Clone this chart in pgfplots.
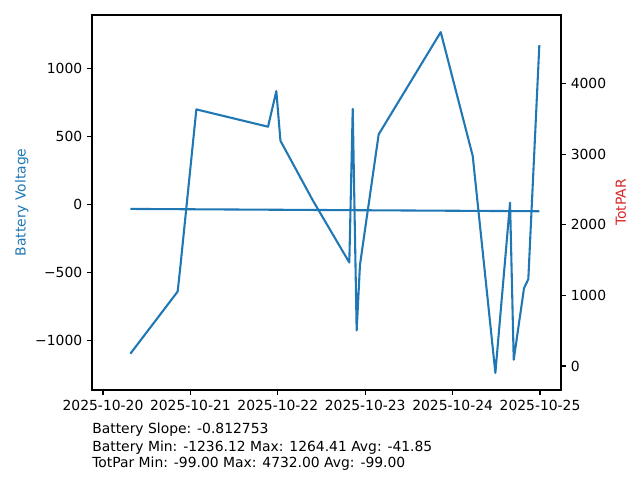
\documentclass[border=0pt]{standalone}
\usepackage{pgfplots}
\pgfplotsset{compat=1.18}
\usepackage{fontspec}
\setmainfont{DejaVu Sans}
\definecolor{tabblue}{HTML}{1F77B4}
\definecolor{tabred}{HTML}{D62728}

% days counted from 2025-10-20 00:00
\pgfplotstableread{
x y
0.313 -1095
0.854 -639
0.885 -456
1.068 697
1.888 570
1.983 831
2.030 467
2.400 30
2.818 -426
2.857 700
2.902 -925
2.940 -443
3.154 514
3.864 1264
4.230 355
4.489 -1236
4.657 13
4.699 -1139
4.817 -614
4.866 -548
4.992 1168
}\battery

\begin{document}
\begin{tikzpicture}
\path[use as bounding box] (0pt,0pt) rectangle (460.8pt,345.6pt);
\begin{axis}[
  at={(66.24pt,64.8pt)}, anchor=south west,
  scale only axis, width=337.68pt, height=270pt,
  xmin=-0.126, xmax=5.24,
  ymin=-1361.15, ymax=1389.44,
  xtick={0,1,2,3,4,5},
  xticklabels={2025-10-20,2025-10-21,2025-10-22,2025-10-23,2025-10-24,2025-10-25},
  ytick={-1000,-500,0,500,1000},
  yticklabels={−1000,−500,0,500,1000},
  xtick pos=lower, ytick pos=left,
  tick align=outside,
  major tick length=3.5pt,
  axis line style={line width=0.8pt},
  every tick/.style={black, line width=0.8pt},
  ylabel={Battery Voltage},
  ylabel style={color=tabblue},
  ylabel shift=-2pt,
  clip=true,
]
\addplot[tabblue, line width=1.5pt, line join=round] table[x=x,y=y] {\battery};
\addplot[tabblue, line width=1.5pt] coordinates {(0.313,-33) (4.992,-50)};
\end{axis}
\begin{axis}[
  at={(66.24pt,64.8pt)}, anchor=south west,
  scale only axis, width=337.68pt, height=270pt,
  xmin=-0.126, xmax=5.24,
  ymin=-340.55, ymax=4973.55,
  axis x line=none,
  axis y line*=right,
  ytick={0,1000,2000,3000,4000},
  yticklabels={0,1000,2000,3000,4000},
  ytick pos=right,
  tick align=outside,
  major tick length=3.5pt,
  axis line style={line width=0.8pt, -},
  every tick/.style={black, line width=0.8pt},
  ylabel={TotPAR},
  ylabel style={color=tabred},
]
\end{axis}
\node[anchor=west, inner sep=0pt] at (66.24pt,36.4pt) {Battery Slope: -0.812753};
\node[anchor=west, inner sep=0pt] at (66.24pt,23.6pt) {Battery Min: -1236.12 Max: 1264.41 Avg: -41.85};
\node[anchor=west, inner sep=0pt] at (66.24pt,11.4pt) {TotPar Min: -99.00 Max: 4732.00 Avg: -99.00};
\end{tikzpicture}
\end{document}
